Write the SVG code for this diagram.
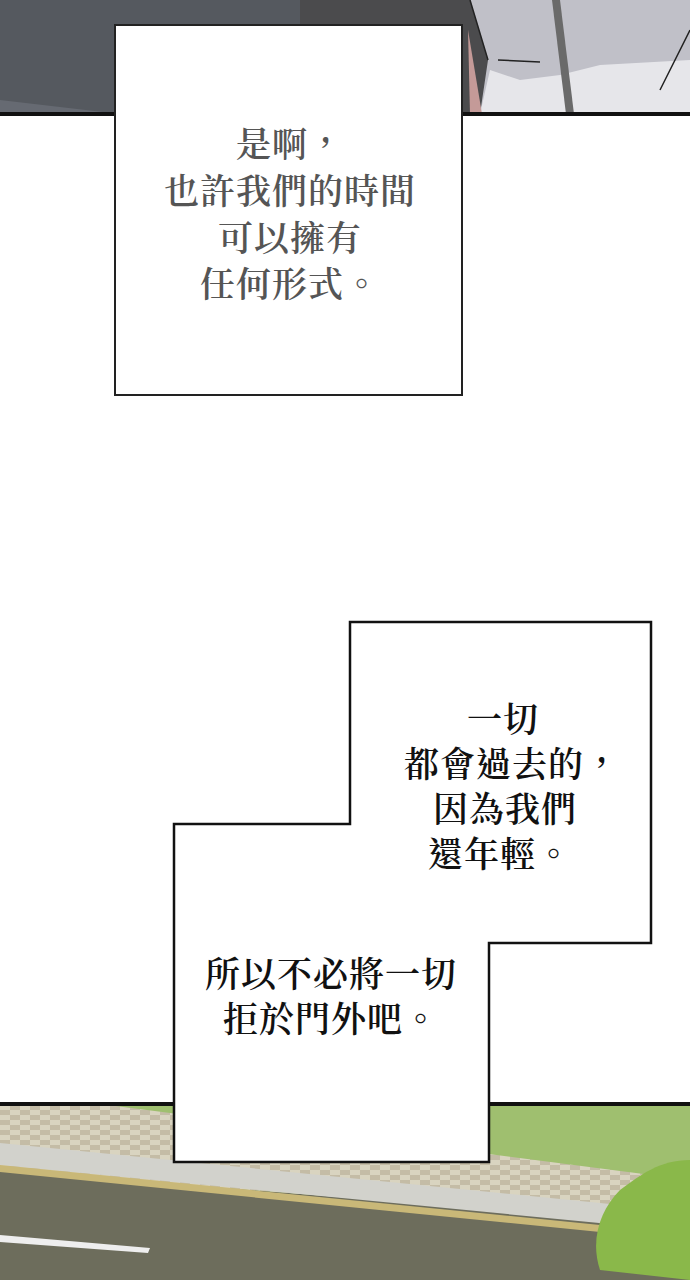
<svg xmlns="http://www.w3.org/2000/svg" width="690" height="1280" viewBox="0 0 690 1280">
<defs>
<style>
.t{font-family:"Noto Serif CJK TC","Noto Sans CJK TC",serif;font-size:35px;font-weight:600;text-anchor:middle;letter-spacing:1px}
.g{fill:#555}
.k{fill:#111}
.box{fill:#fff;stroke:#111;stroke-width:2.5}
</style>
<pattern id="chk" width="20" height="10" patternUnits="userSpaceOnUse">
<rect width="20" height="10" fill="#d9d4c0"/><rect width="10" height="5" fill="#c4bca6"/><rect x="10" y="5" width="10" height="5" fill="#c4bca6"/>
</pattern>
</defs>
<rect width="690" height="1280" fill="#fff"/>
<g id="top-panel">
<rect x="0" y="0" width="690" height="114" fill="#4b4b4d"/>
<polygon points="0,0 300,0 300,114 0,114" fill="#55595f"/>
<polygon points="0,100 120,114 0,114" fill="#666a72"/>
<polygon points="470,0 690,0 690,114 480,114 488,60" fill="#c0c0c8"/>
<polygon points="480,114 490,70 520,80 560,75 600,65 690,60 690,114" fill="#e6e6ea"/>
<polygon points="468,30 482,114 470,114" fill="#c49a98"/>
<polygon points="552,0 560,0 574,114 566,114" fill="#6a6a6a"/>
<path d="M470,0 L488,60 M690,30 L660,90 M498,60 L540,62" stroke="#222" stroke-width="1.5" fill="none"/>
<rect x="0" y="112" width="690" height="4" fill="#111"/>
</g>
<g id="bottom-panel">
<rect x="0" y="1104" width="690" height="176" fill="#6d6d5c"/>
<polygon points="0,1104 690,1104 690,1225 0,1170" fill="#9fbf6f"/>
<polygon points="0,1104 100,1104 690,1180 690,1225 0,1170" fill="url(#chk)"/>
<polygon points="0,1143 620,1205 620,1225 0,1165" fill="#d2d2cc"/>
<polygon points="0,1165 600,1225 600,1232 0,1172" fill="#c9b878"/>
<polygon points="0,1235 150,1248 148,1253 0,1242" fill="#eee"/>
<path d="M620,1190 C600,1210 590,1240 600,1270 L690,1280 L690,1160 C660,1160 640,1175 620,1190Z" fill="#8ab84a"/>
<rect x="0" y="1102" width="690" height="4" fill="#111"/>
</g>
<g id="box1">
<rect x="115" y="25" width="347" height="370" fill="#fff" stroke="#222" stroke-width="2"/>
<text class="t g" x="290" y="157">是啊，</text>
<text class="t g" x="290" y="204">也許我們的時間</text>
<text class="t g" x="290" y="251">可以擁有</text>
<text class="t g" x="290" y="297">任何形式。</text>
</g>
<g id="box2">
<polygon class="box" points="350,622 651,622 651,943 489,943 489,1162 174,1162 174,824 350,824"/>
<text class="t k" x="503" y="732">一切</text>
<text class="t k" x="512" y="777">都會過去的，</text>
<text class="t k" x="505" y="822">因為我們</text>
<text class="t k" x="500" y="867">還年輕。</text>
<text class="t k" x="331" y="987">所以不必將一切</text>
<text class="t k" x="331" y="1032">拒於門外吧。</text>
</g>
</svg>
